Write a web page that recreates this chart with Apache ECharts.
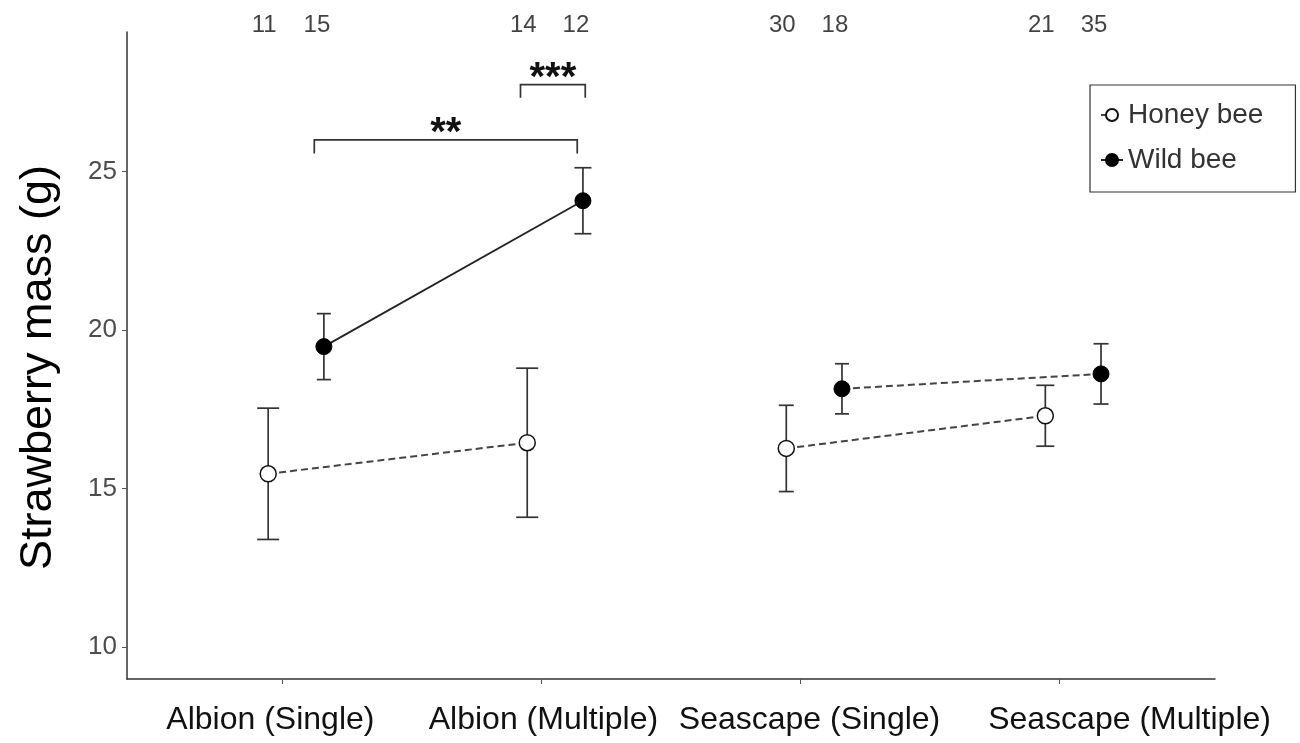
<!DOCTYPE html>
<html>
<head>
<meta charset="utf-8">
<script src="https://cdn.jsdelivr.net/npm/echarts@6/dist/echarts.min.js"></script>
<style>
html,body{margin:0;padding:0;background:#fff;}
#chart{width:1300px;height:743px;}
</style>
</head>
<body>
<div id="chart"></div>
<script>
// ---- data ----
var categories = ['Albion (Single)', 'Albion (Multiple)', 'Seascape (Single)', 'Seascape (Multiple)'];
var honeyMean = [15.47, 16.45, 16.27, 17.3];
var honeyErr  = [2.07, 2.35, 1.36, 0.96];
var wildMean  = [19.48, 24.08, 18.15, 18.62];
var wildErr   = [1.04, 1.04, 0.79, 0.95];
var honeyN = [11, 14, 30, 21];
var wildN  = [15, 12, 18, 35];
var yTicks = [10, 15, 20, 25];
// significance brackets: [from x, to x, bracket y, drop y]
var sigBrackets = [[1.123, 2.138, 26.0, 25.57], [1.919, 2.169, 27.74, 27.33]];
var sigLabels = ['**', '***'];

// ---- layout / style constants ----
var honeyDodge = -0.055, wildDodge = 0.16;
var honeyCap = [22, 22, 15, 18], wildCap = [14, 17, 14, 15];
var nLabelY = 29.6;
var labelShift = [-12, 2, 9, 70];

function xs(dodge) { return categories.map(function (c, i) { return i + 1 + dodge; }); }
var hx = xs(honeyDodge), wx = xs(wildDodge);

function errData(x, m, e) { return x.map(function (xv, i) { return [xv, m[i] - e[i], m[i] + e[i], i]; }); }
function segment(x, m, a, b) { return [[x[a], m[a]], [x[b], m[b]]]; }

function errRender(caps) {
  return function (params, api) {
    var x = api.value(0), lo = api.value(1), hi = api.value(2), idx = api.value(3);
    var p1 = api.coord([x, lo]), p2 = api.coord([x, hi]);
    var w = caps[idx] / 2;
    var st = { stroke: '#333', lineWidth: 1.7 };
    return {
      type: 'group',
      children: [
        { type: 'line', shape: { x1: p1[0], y1: p1[1], x2: p2[0], y2: p2[1] }, style: st },
        { type: 'line', shape: { x1: p1[0] - w, y1: p1[1], x2: p1[0] + w, y2: p1[1] }, style: st },
        { type: 'line', shape: { x1: p2[0] - w, y1: p2[1], x2: p2[0] + w, y2: p2[1] }, style: st }
      ]
    };
  };
}

var rich = {};
labelShift.forEach(function (s, i) {
  rich['c' + i] = {
    fontSize: 32, color: '#111', fontFamily: 'Liberation Sans, Arial, sans-serif',
    padding: s >= 0 ? [0, 0, 0, 2 * s] : [0, -2 * s, 0, 0]
  };
});

var honeyPoint = { color: '#fff', borderColor: '#111', borderWidth: 1.5 };
var wildPoint = { color: '#000', borderColor: '#000', borderWidth: 1 };
var dashStyle = { color: '#444', width: 2, type: [7, 4] };

var chart = echarts.init(document.getElementById('chart'));
chart.setOption({
  backgroundColor: '#fff',
  animation: false,
  textStyle: { fontFamily: 'Liberation Sans, Arial, sans-serif' },
  grid: { left: 127, right: 85, top: 32, bottom: 64 },
  legend: {
    data: ['Honey bee', 'Wild bee'],
    orient: 'vertical',
    left: 1090, top: 85,
    padding: [16, 32, 18, 10],
    itemGap: 17,
    itemWidth: 22, itemHeight: 15,
    borderColor: '#333', borderWidth: 1.2,
    textStyle: { fontSize: 28, color: '#333' }
  },
  xAxis: {
    type: 'value', min: 0.4, max: 4.6,
    splitLine: { show: false },
    axisLine: { show: true, lineStyle: { color: '#333', width: 1.5 } },
    axisTick: { show: true, customValues: [1, 2, 3, 4], length: 5, lineStyle: { color: '#555' } },
    axisLabel: {
      customValues: [1, 2, 3, 4], margin: 25,
      formatter: function (v) { var i = Math.round(v) - 1; return '{c' + i + '|' + categories[i] + '}'; },
      rich: rich
    }
  },
  yAxis: {
    type: 'value', min: 9, max: 29.4,
    name: 'Strawberry mass (g)', nameLocation: 'middle', nameGap: 66,
    nameTextStyle: { fontSize: 45, color: '#000', padding: [0, 24, 0, 0] },
    splitLine: { show: false },
    axisLine: { show: true, lineStyle: { color: '#333', width: 1.5 } },
    axisTick: { show: true, customValues: yTicks, length: 5, lineStyle: { color: '#555' } },
    axisLabel: { customValues: yTicks, fontSize: 26, color: '#4d4d4d', margin: 10 }
  },
  series: [
    { type: 'custom', name: 'honeyErr', data: errData(hx, honeyMean, honeyErr), renderItem: errRender(honeyCap), encode: { x: 0, y: [1, 2] }, z: 2, silent: true },
    { type: 'custom', name: 'wildErr', data: errData(wx, wildMean, wildErr), renderItem: errRender(wildCap), encode: { x: 0, y: [1, 2] }, z: 2, silent: true },
    { type: 'line', name: 'Honey bee', data: segment(hx, honeyMean, 0, 1), symbol: 'circle', symbolSize: 16, showSymbol: true,
      lineStyle: dashStyle, itemStyle: honeyPoint, z: 3 },
    { type: 'line', name: 'Honey bee', data: segment(hx, honeyMean, 2, 3), symbol: 'circle', symbolSize: 16, showSymbol: true,
      lineStyle: dashStyle, itemStyle: honeyPoint, z: 3 },
    { type: 'line', name: 'Wild bee', data: segment(wx, wildMean, 0, 1), symbol: 'circle', symbolSize: 16, showSymbol: true,
      lineStyle: { color: '#222', width: 1.8, type: 'solid' }, itemStyle: wildPoint, z: 3 },
    { type: 'line', name: 'Wild bee', data: segment(wx, wildMean, 2, 3), symbol: 'circle', symbolSize: 16, showSymbol: true,
      lineStyle: dashStyle, itemStyle: wildPoint, z: 3 },
    { type: 'custom', name: 'sig', silent: true, clip: false, z: 4,
      data: sigBrackets.map(function (b, i) { return [b[0], b[1], b[2], b[3], i]; }),
      encode: { x: [0, 1], y: [2, 3] },
      renderItem: function (params, api) {
        var x1 = api.value(0), x2 = api.value(1), y = api.value(2), yd = api.value(3), i = api.value(4);
        var a = api.coord([x1, y]), b = api.coord([x2, y]), ad = api.coord([x1, yd]);
        var st = { stroke: '#333', lineWidth: 1.7, fill: null };
        return {
          type: 'group',
          children: [
            { type: 'polyline', shape: { points: [[a[0], ad[1]], a, b, [b[0], ad[1]]] }, style: st },
            { type: 'text', x: (a[0] + b[0]) / 2, y: a[1] + 14,
              style: { text: sigLabels[i], fontSize: 40, fontWeight: 'bold', fill: '#111', align: 'center', verticalAlign: 'bottom',
                       fontFamily: 'Liberation Sans, Arial, sans-serif' } }
          ]
        };
      }
    },
    { type: 'scatter', name: 'nHoney', clip: false, silent: true, symbolSize: 1, itemStyle: { color: 'rgba(0,0,0,0)' },
      data: hx.map(function (x) { return [x, nLabelY]; }),
      label: { show: true, position: 'inside', offset: [-4, 0], fontSize: 24, color: '#111',
        formatter: function (p) { return String(honeyN[p.dataIndex]); } } },
    { type: 'scatter', name: 'nWild', clip: false, silent: true, symbolSize: 1, itemStyle: { color: 'rgba(0,0,0,0)' },
      data: wx.map(function (x) { return [x, nLabelY]; }),
      label: { show: true, position: 'inside', offset: [-7, 0], fontSize: 24, color: '#111',
        formatter: function (p) { return String(wildN[p.dataIndex]); } } }
  ]
});
</script>
</body>
</html>
